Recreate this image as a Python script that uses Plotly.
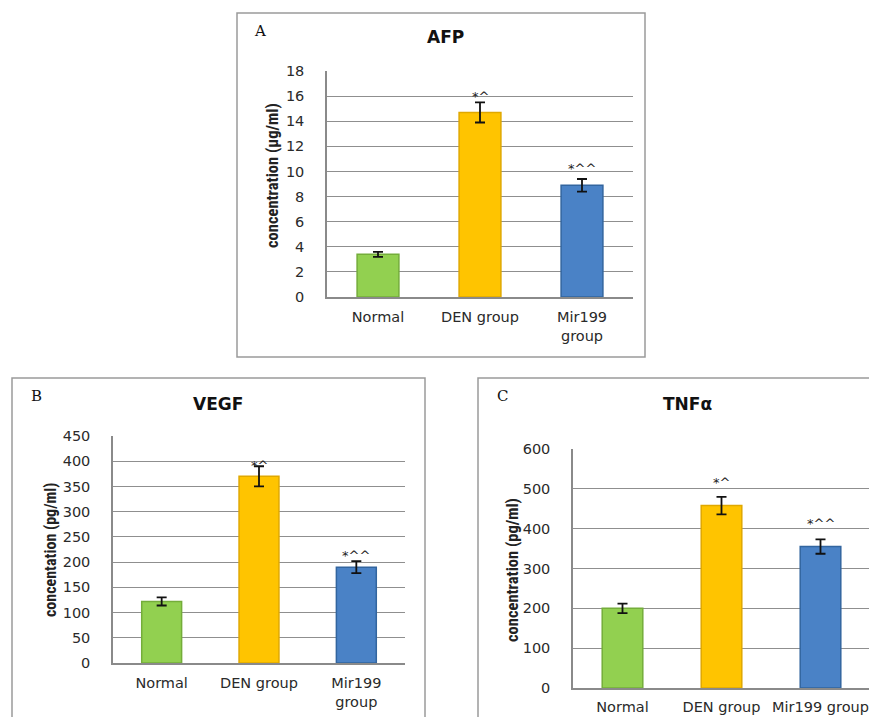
import plotly.graph_objects as go

W, H = 877, 717
OFF = 8  # page body margin

categories_ab = ["Normal", "DEN group", "Mir199<br>group"]
categories_c = ["Normal", "DEN group", "Mir199 group"]

afp_values = [3.4, 14.7, 8.9]
afp_errors = [0.2, 0.8, 0.5]
afp_marks = ["", "*^", "*^^"]
afp_mark_y = [0, 16.0, 10.2]

vegf_values = [122, 370, 190]
vegf_errors = [8, 20, 12]
vegf_marks = ["", "*^", "*^^"]
vegf_mark_y = [0, 392, 214]

tnf_values = [200, 458, 355]
tnf_errors = [12, 22, 18]
tnf_marks = ["", "*^", "*^^"]
tnf_mark_y = [0, 515, 414]

bar_colors = ["#92D050", "#FFC400", "#4A82C6"]
bar_lines = ["#74AD3A", "#E0A800", "#32659F"]

def px_x(p):
    return (p - OFF) / W

def px_y(p):
    return 1 - (p - OFF) / H

fig = go.Figure()

panels = [
    dict(cats=categories_ab, vals=afp_values, errs=afp_errors, marks=afp_marks, marky=afp_mark_y,
         xd=(327, 633), yd=(71, 297), rng=[0, 18], dtick=2, ax="", title="AFP", letter="A",
         title_xy=(445, 37), letter_xy=(260, 31), ytitle="concentration (µg/ml)", ytitle_xy=(273, 176),
         standoff=6, tsize=16.5),
    dict(cats=categories_ab, vals=vegf_values, errs=vegf_errors, marks=vegf_marks, marky=vegf_mark_y,
         xd=(113, 405), yd=(436, 663), rng=[0, 450], dtick=50, ax="2", title="VEGF", letter="B",
         title_xy=(218, 404), letter_xy=(37, 396), ytitle="concentation (pg/ml)", ytitle_xy=(50, 550),
         standoff=6, tsize=16),
    dict(cats=categories_c, vals=tnf_values, errs=tnf_errors, marks=tnf_marks, marky=tnf_mark_y,
         xd=(573, 870), yd=(449, 688), rng=[0, 600], dtick=100, ax="3", title="TNFα", letter="C",
         title_xy=(687, 404), letter_xy=(502, 396), ytitle="concentration (pg/ml)", ytitle_xy=(512, 570),
         standoff=5, tsize=16.5),
]

annotations = []
layout_axes = {}
tick_font = dict(family="DejaVu Sans, sans-serif", size=14.5, color="#2a2a2a")

for p in panels:
    ax = p["ax"]
    xa = "x" + ax
    ya = "y" + ax
    fig.add_trace(go.Bar(
        x=p["cats"], y=p["vals"],
        marker=dict(color=bar_colors, line=dict(color=bar_lines, width=1.5)),
        width=0.41,
        error_y=dict(type="data", array=p["errs"], color="#111111", thickness=1.8, width=5),
        xaxis=xa, yaxis=ya, showlegend=False,
    ))
    layout_axes["xaxis" + ax] = dict(
        domain=[px_x(p["xd"][0]), px_x(p["xd"][1])], anchor=ya,
        showline=True, linecolor="#8a8a8a", linewidth=1.5, ticks="",
        tickfont=tick_font, showgrid=False, ticklabelstandoff=p["standoff"], automargin=False,
    )
    layout_axes["yaxis" + ax] = dict(
        domain=[px_y(p["yd"][1]), px_y(p["yd"][0])], anchor=xa,
        range=p["rng"], dtick=p["dtick"], showline=True, linecolor="#8a8a8a", linewidth=1.5,
        showgrid=True, gridcolor="#8f8f8f", gridwidth=1.3, zeroline=False, ticks="",
        tickfont=tick_font, ticklabelstandoff=18, automargin=False,
    )
    for c, t, yv in zip(p["cats"], p["marks"], p["marky"]):
        if t:
            annotations.append(dict(x=c, y=yv, xref=xa, yref=ya, text=t, showarrow=False,
                                    font=dict(family="DejaVu Sans", size=13, color="#222222"),
                                    xanchor="center", yanchor="middle"))
    annotations.append(dict(x=px_x(p["title_xy"][0]), y=px_y(p["title_xy"][1]), xref="paper", yref="paper",
                            text="<b>" + p["title"] + "</b>", showarrow=False,
                            xanchor="center", yanchor="middle",
                            font=dict(family="DejaVu Sans, sans-serif", size=17, color="#111111")))
    annotations.append(dict(x=px_x(p["letter_xy"][0]), y=px_y(p["letter_xy"][1]), xref="paper", yref="paper",
                            text=p["letter"], showarrow=False, xanchor="center", yanchor="middle",
                            font=dict(family="DejaVu Serif, Liberation Serif, serif", size=15, color="#111111")))
    annotations.append(dict(x=px_x(p["ytitle_xy"][0]), y=px_y(p["ytitle_xy"][1]), xref="paper", yref="paper",
                            text="<b>" + p["ytitle"] + "</b>", showarrow=False, textangle=-90,
                            xanchor="center", yanchor="middle",
                            font=dict(family="Liberation Sans Narrow, Roboto Condensed, Roboto, sans-serif",
                                      size=p["tsize"], color="#222222")))

shapes = [
    dict(type="rect", xref="paper", yref="paper", x0=px_x(237), x1=px_x(645), y0=px_y(357), y1=px_y(13),
         line=dict(color="#9a9a9a", width=1.5)),
    dict(type="rect", xref="paper", yref="paper", x0=px_x(12), x1=px_x(425), y0=px_y(740), y1=px_y(378),
         line=dict(color="#9a9a9a", width=1.5)),
    dict(type="rect", xref="paper", yref="paper", x0=px_x(478), x1=px_x(900), y0=px_y(740), y1=px_y(378),
         line=dict(color="#9a9a9a", width=1.5)),
]

fig.update_layout(
    width=W, height=H, margin=dict(l=0, r=0, t=0, b=0, autoexpand=False),
    paper_bgcolor="white", plot_bgcolor="white",
    annotations=annotations, shapes=shapes, bargap=0.59,
    **layout_axes,
)

fig.write_html("out.html")
